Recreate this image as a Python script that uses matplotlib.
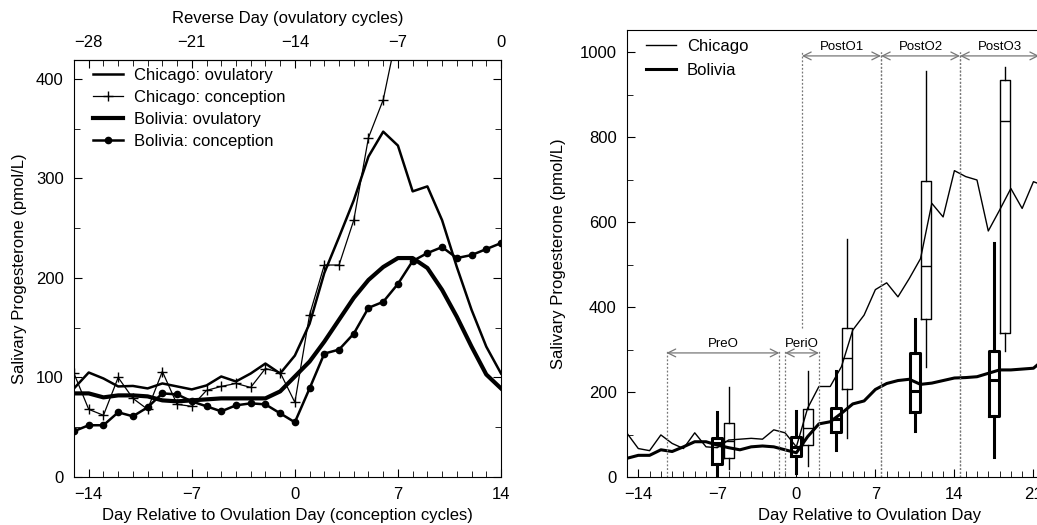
import numpy as np
import matplotlib
matplotlib.use('Agg')
import matplotlib.pyplot as plt
from matplotlib.ticker import MultipleLocator, FixedLocator

plt.rcParams['font.family'] = ['Liberation Sans', 'DejaVu Sans']
plt.rcParams['font.size'] = 11

# left panel: daily means, day -15 .. 14
days_left = np.arange(-15, 15)
chi_ovu = [89, 105, 99, 91, 91.5, 89, 94, 91, 88, 92, 101, 96, 104, 114, 104,
           122, 154, 205, 241, 278, 322, 347, 333, 287, 292, 258, 211, 168, 131, 104]
bol_ovu = [84, 84, 80, 82, 82, 81, 77, 76, 77, 78, 79, 79, 79, 79, 86,
           101, 116, 136, 158, 180, 198, 211, 220, 220, 210, 188, 161, 131, 103, 89]
bol_conc = [46, 52, 52, 65, 61, 70, 84, 83, 76, 71, 66, 72, 74, 73, 64,
            55, 89, 124, 128, 144, 170, 176, 194, 217, 225, 231, 220, 223, 229, 235]
# chicago conception goes off the top after day 7
days_chi_conc = np.arange(-15, 8)
chi_conc = [104, 68, 62, 100, 79, 68, 106, 73, 71, 87, 91, 94, 90, 109, 105,
            75, 163, 213, 213, 258, 341, 379, 450]
reverse_ticks = [-28, -21, -14, -7, 0]

# right panel: day -15 .. 22
days_right = np.arange(-15, 23)
chi_right = [103, 67, 62, 99, 79, 67, 104, 71, 69, 87, 89, 91, 89, 111, 104,
             71, 162, 213, 213, 260, 346, 381, 441, 457, 424, 467, 514, 644, 612,
             721, 707, 699, 579, 628, 679, 632, 695, 685]
bol_right = [44, 51, 51, 64, 60, 71, 83, 83, 75, 69, 64, 71, 73, 71, 64,
             57, 95, 125, 130, 150, 172, 179, 206, 220, 227, 230, 218, 221, 227,
             233, 234, 236, 244, 252, 252, 254, 256, 278]
right_day_ticks = [-14, -7, 0, 7, 14, 21]

# cycle phases
period_names = ['PreO', 'PeriO', 'PostO1', 'PostO2', 'PostO3']
period_start = [-11.5, -1, 0.5, 7.5, 14.5]
period_end = [-1.5, 2, 7.5, 14.5, 21.5]

# box summaries per phase (whisker low, q1, median, q3, whisker high)
bol_whislo = [0, 9, 64, 108, 48]
bol_q1 = [30, 50, 105, 154, 144]
bol_med = [81, 71, 136, 202, 228]
bol_q3 = [91, 93, 162, 293, 296]
bol_whishi = [154, 156, 250, 372, 550]

chi_whislo = [18, 26, 91, 260, 297]
chi_q1 = [44, 75, 206, 372, 338]
chi_med = [85, 116, 279, 496, 838]
chi_q3 = [126, 159, 351, 697, 934]
chi_whishi = [212, 250, 559, 956, 965]

W, H = 1037, 525
fig = plt.figure(figsize=(W / 100, H / 100), dpi=100)


def style_ticks(ax):
    ax.tick_params(which='both', direction='in', labelsize=12, pad=7.5)
    ax.tick_params(which='major', length=6)
    ax.tick_params(which='minor', length=4)


# ---------------- left panel ----------------
ax1 = fig.add_axes([74 / W, 1 - 477 / H, 427 / W, 417 / H])
ax1.plot(days_left, chi_ovu, color='black', lw=1.8, label='Chicago: ovulatory')
ax1.plot(days_chi_conc, chi_conc, color='black', lw=0.9, marker='+', ms=6.5, mew=1.0,
         label='Chicago: conception')
ax1.plot(days_left, bol_ovu, color='black', lw=3.0, label='Bolivia: ovulatory')
ax1.plot(days_left, bol_conc, color='black', lw=1.8, marker='o', ms=4.5,
         label='Bolivia: conception')
ax1.set_xlim(-15, 14)
ax1.set_ylim(0, 419)
ax1.xaxis.set_major_locator(MultipleLocator(7))
ax1.xaxis.set_minor_locator(MultipleLocator(1))
ax1.yaxis.set_major_locator(MultipleLocator(100))
ax1.yaxis.set_minor_locator(MultipleLocator(50))
style_ticks(ax1)
ax1.tick_params(which='both', right=True, top=False)
ax1.set_xlabel('Day Relative to Ovulation Day (conception cycles)', fontsize=12, labelpad=4)
ax1.set_ylabel('Salivary Progesterone (pmol/L)', fontsize=12, labelpad=6)
ax1.legend(loc='upper left', bbox_to_anchor=(0.029, 0.997), frameon=False, fontsize=12,
           handlelength=1.8, labelspacing=0.42, borderaxespad=0, handletextpad=0.66)

top = ax1.secondary_xaxis('top', functions=(lambda x: x - 14, lambda x: x + 14))
top.xaxis.set_major_locator(FixedLocator(reverse_ticks))
top.xaxis.set_minor_locator(FixedLocator(np.arange(-29, 1)))
style_ticks(top)
top.set_xlabel('Reverse Day (ovulatory cycles)', fontsize=12, labelpad=8)

# ---------------- right panel ----------------
ax2 = fig.add_axes([627 / W, 1 - 477 / H, 43 * 11.29 / W, 447 / H])
ax2.plot(days_right, chi_right, color='black', lw=1.0, label='Chicago')
ax2.plot(days_right, bol_right, color='black', lw=2.2, label='Bolivia')

centers = [(a + b) / 2 for a, b in zip(period_start, period_end)]
bol_stats = [dict(whislo=a, q1=b, med=c, q3=d, whishi=e, fliers=[])
             for a, b, c, d, e in zip(bol_whislo, bol_q1, bol_med, bol_q3, bol_whishi)]
chi_stats = [dict(whislo=a, q1=b, med=c, q3=d, whishi=e, fliers=[])
             for a, b, c, d, e in zip(chi_whislo, chi_q1, chi_med, chi_q3, chi_whishi)]
thick = dict(color='black', linewidth=2.2)
thin = dict(color='black', linewidth=1.0)
ax2.bxp(bol_stats, positions=[c - 0.5 for c in centers], widths=0.9, showcaps=False,
        boxprops=thick, whiskerprops=thick, medianprops=thick, manage_ticks=False)
ax2.bxp(chi_stats, positions=[c + 0.5 for c in centers], widths=0.9, showcaps=False,
        boxprops=thin, whiskerprops=thin, medianprops=thin, manage_ticks=False)

# phase brackets
for i, name in enumerate(period_names):
    y_arrow = 292 if i < 2 else 991
    y_top = 300 if i < 2 else 1000
    a, b = period_start[i], period_end[i]
    ax2.annotate('', xy=(a, y_arrow), xytext=(b, y_arrow),
                 arrowprops=dict(arrowstyle='<->', color='#777777', lw=0.9,
                                 shrinkA=0, shrinkB=0, mutation_scale=14))
    ax2.text((a + b) / 2, y_arrow + 6, name, ha='center', va='bottom', fontsize=9.5)
    low_a = 350 if name == 'PostO1' else 0
    ax2.plot([a, a], [low_a, y_top], color='#777777', lw=0.9, ls=(0, (1.5, 1.5)))
    ax2.plot([b, b], [0, y_top], color='#777777', lw=0.9, ls=(0, (1.5, 1.5)))

ax2.set_xlim(-15, 28)
ax2.set_ylim(0, 1052)
ax2.xaxis.set_major_locator(FixedLocator(right_day_ticks))
ax2.xaxis.set_minor_locator(MultipleLocator(1))
ax2.yaxis.set_major_locator(MultipleLocator(200))
ax2.yaxis.set_minor_locator(MultipleLocator(100))
style_ticks(ax2)
ax2.set_xlabel('Day Relative to Ovulation Day', fontsize=12, labelpad=4)
ax2.set_ylabel('Salivary Progesterone (pmol/L)', fontsize=12, labelpad=10)
ax2.legend(loc='upper left', bbox_to_anchor=(0.025, 0.995), frameon=False, fontsize=12,
           handlelength=1.8, labelspacing=0.55, borderaxespad=0, handletextpad=0.66)

fig.savefig('out.png', dpi=100)
